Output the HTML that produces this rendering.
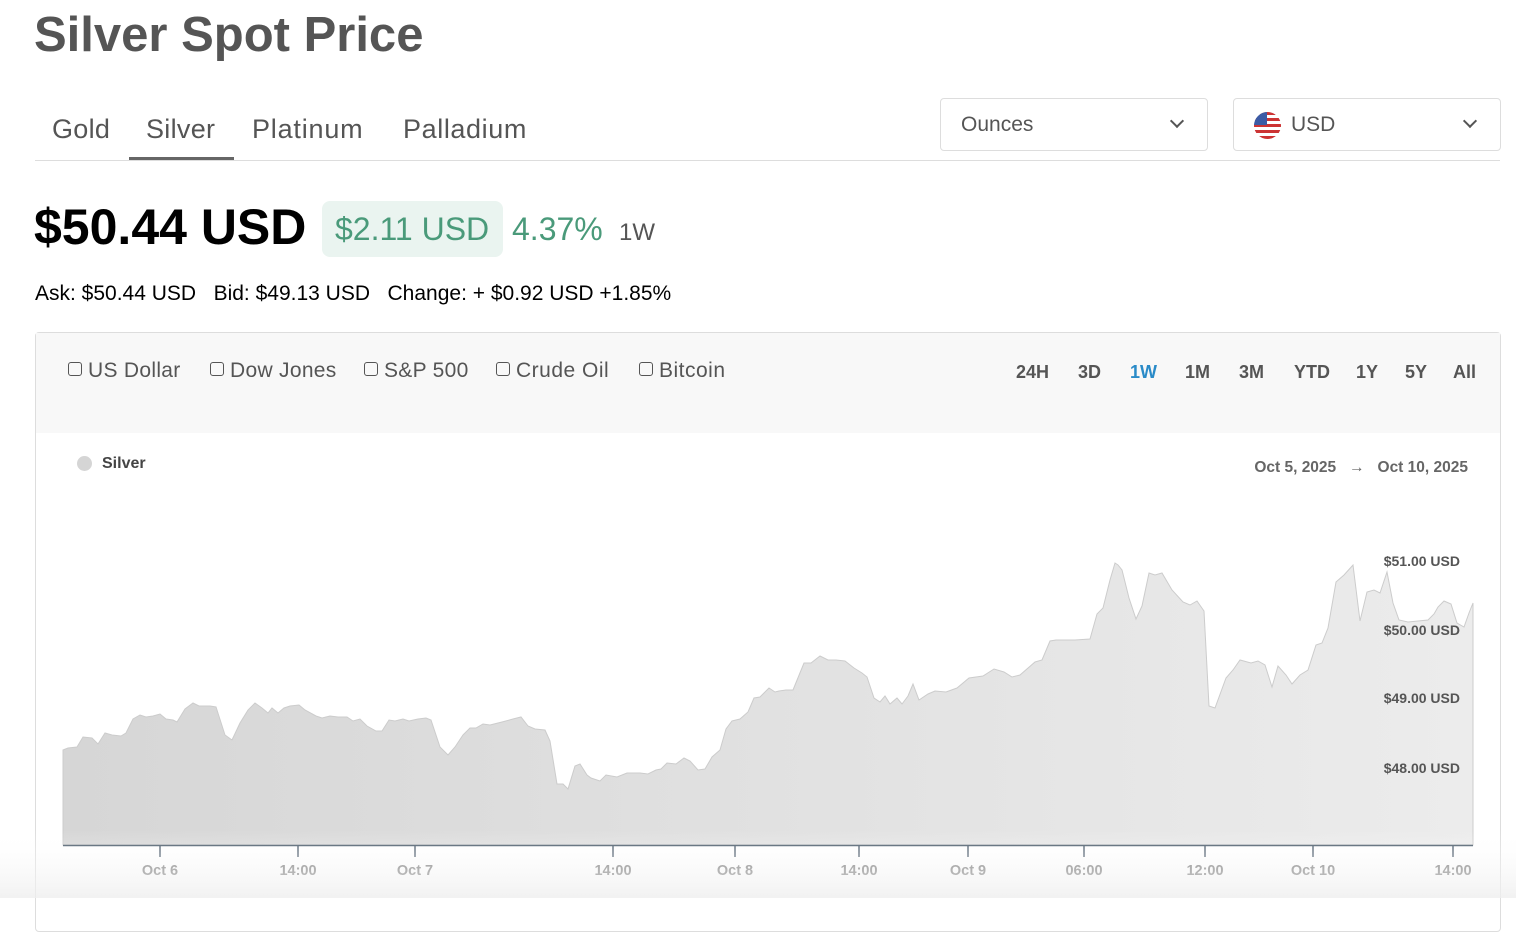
<!DOCTYPE html>
<html><head><meta charset="utf-8"><style>
*{margin:0;padding:0;box-sizing:border-box}
body{width:1516px;height:898px;overflow:hidden;background:#fff;font-family:"Liberation Sans",sans-serif;position:relative}
.a{position:absolute;white-space:nowrap}
.cb{display:inline-block;width:14px;height:14px;border:1.5px solid #555;border-radius:3px;vertical-align:1px;margin-right:6px}
</style></head><body>
<div class="a" style="left:34px;top:7px;font-size:49px;font-weight:bold;color:#555">Silver Spot Price</div>
<div class="a" style="left:52px;top:114px;font-size:27px;color:#555;letter-spacing:0.3px">Gold</div>
<div class="a" style="left:146px;top:114px;font-size:27px;color:#555;letter-spacing:0.3px">Silver</div>
<div class="a" style="left:252px;top:114px;font-size:27px;color:#555;letter-spacing:0.8px">Platinum</div>
<div class="a" style="left:403px;top:114px;font-size:27px;color:#555;letter-spacing:0.6px">Palladium</div>
<div class="a" style="left:35px;top:160px;width:1465px;height:1px;background:#ddd"></div>
<div class="a" style="left:129px;top:157px;width:105px;height:3px;background:#666"></div>
<div class="a" style="left:940px;top:98px;width:268px;height:53px;border:1px solid #ddd;border-radius:4px"></div>
<div class="a" style="left:961px;top:113px;font-size:21px;color:#555">Ounces</div>
<div class="a" style="left:1172px;top:116px;width:10px;height:10px;border-right:2px solid #555;border-bottom:2px solid #555;transform:rotate(45deg)"></div>
<div class="a" style="left:1233px;top:98px;width:268px;height:53px;border:1px solid #ddd;border-radius:4px"></div>
<div class="a" style="left:1254px;top:112px;width:27px;height:27px;border-radius:50%;overflow:hidden;background:repeating-linear-gradient(#c33 0 3px,#fff 3px 6px)"><div style="width:13px;height:13px;background:#3b5ba5"></div></div>
<div class="a" style="left:1291px;top:113px;font-size:21px;color:#555">USD</div>
<div class="a" style="left:1465px;top:116px;width:10px;height:10px;border-right:2px solid #555;border-bottom:2px solid #555;transform:rotate(45deg)"></div>
<div class="a" style="left:34px;top:198px;font-size:50px;font-weight:bold;color:#000">$50.44 USD</div>
<div class="a" style="left:322px;top:201px;width:181px;height:56px;background:#eaf4f0;border-radius:8px"></div>
<div class="a" style="left:335px;top:211px;font-size:32px;color:#4a9a7a">$2.11 USD</div>
<div class="a" style="left:512px;top:211px;font-size:32px;color:#4a9a7a">4.37%</div>
<div class="a" style="left:619px;top:219px;font-size:24px;color:#555">1W</div>
<div class="a" style="left:35px;top:282px;font-size:21px;color:#000">Ask: $50.44 USD&nbsp;&nbsp;&nbsp;Bid: $49.13 USD&nbsp;&nbsp;&nbsp;Change: + $0.92 USD +1.85%</div>
<div class="a" style="left:35px;top:332px;width:1466px;height:600px;border:1px solid #ddd;border-radius:4px"></div>
<div class="a" style="left:36px;top:333px;width:1464px;height:100px;background:#f8f8f8"></div>
<div class="a" style="left:68px;top:359px;font-size:21px;color:#555;letter-spacing:0.3px"><span class="cb"></span>US Dollar</div>
<div class="a" style="left:210px;top:359px;font-size:21px;color:#555;letter-spacing:0.3px"><span class="cb"></span>Dow Jones</div>
<div class="a" style="left:364px;top:359px;font-size:21px;color:#555;letter-spacing:0.3px"><span class="cb"></span>S&amp;P 500</div>
<div class="a" style="left:496px;top:359px;font-size:21px;color:#555;letter-spacing:0.5px"><span class="cb"></span>Crude Oil</div>
<div class="a" style="left:639px;top:359px;font-size:21px;color:#555;letter-spacing:0.5px"><span class="cb"></span>Bitcoin</div>
<div class="a" style="left:1016px;top:362px;font-size:18px;font-weight:bold;color:#555">
<span style="position:absolute;left:0">24H</span><span style="position:absolute;left:62px">3D</span><span style="position:absolute;left:114px;color:#2a8bc8">1W</span><span style="position:absolute;left:169px">1M</span><span style="position:absolute;left:223px">3M</span><span style="position:absolute;left:278px">YTD</span><span style="position:absolute;left:340px">1Y</span><span style="position:absolute;left:389px">5Y</span><span style="position:absolute;left:437px">All</span></div>
<div class="a" style="left:77px;top:456px;width:15px;height:15px;border-radius:50%;background:#d5d5d5"></div>
<div class="a" style="left:102px;top:455px;font-size:16px;font-weight:bold;color:#444">Silver</div>
<div class="a" style="right:48px;top:459px;font-size:15.5px;font-weight:bold;color:#666">Oct 5, 2025 &nbsp;&nbsp;→&nbsp;&nbsp; Oct 10, 2025</div>
<svg class="a" style="left:0;top:0" width="1516" height="898">
<defs><linearGradient id="g" x1="0" y1="0" x2="1" y2="0"><stop offset="0" stop-color="#d6d6d6"/><stop offset="1" stop-color="#ececec"/></linearGradient>
<linearGradient id="f" x1="0" y1="0" x2="0" y2="1"><stop offset="0" stop-color="#fff" stop-opacity="0"/><stop offset="1" stop-color="#eee" stop-opacity="0.8"/></linearGradient></defs>
<polygon fill="url(#g)" stroke="#ccc" stroke-width="1" points="63,845 63,750 68,748 77,747 83,737 92,738 98,744 105,733 112,735 121,736 126,733 133,719 140,715 146,717 153,716 160,714 166,719 173,720 177,722 185,709 193,703 199,706 210,706 216,707 225,735 232,740 240,723 248,710 255,703 262,708 268,713 272,708 278,713 284,708 290,706 299,705 305,710 316,716 322,718 330,716 338,717 347,717 353,721 360,719 367,726 376,731 382,731 389,720 395,721 403,719 409,721 418,719 426,718 431,720 440,747 448,755 455,747 463,735 470,728 476,728 483,724 490,725 502,722 513,719 521,717 528,726 535,729 545,730 550,741 557,784 563,784 568,789 575,766 580,764 587,775 591,778 600,781 606,775 617,777 627,773 640,773 648,774 656,770 661,769 667,763 676,764 684,758 690,761 698,770 705,769 712,757 720,750 726,729 732,721 740,719 748,712 754,698 760,697 769,688 775,692 779,691 786,690 793,690 804,663 811,663 820,656 828,660 836,660 845,661 854,668 862,673 867,677 874,698 880,702 885,696 890,704 897,698 902,704 908,696 913,684 919,700 928,694 935,691 946,692 957,688 969,678 983,676 994,669 1004,672 1012,677 1020,675 1035,662 1042,660 1050,641 1056,640 1075,640 1090,639 1097,614 1103,608 1110,580 1115,563 1118,565 1122,570 1129,598 1136,619 1142,606 1149,573 1155,575 1162,573 1172,590 1183,602 1190,605 1197,601 1204,611 1209,706 1215,708 1226,678 1233,670 1240,660 1251,663 1258,661 1265,665 1272,687 1278,666 1286,675 1292,684 1300,675 1308,670 1316,645 1322,643 1328,628 1336,582 1344,575 1353,565 1360,621 1367,592 1374,590 1380,593 1387,572 1393,603 1399,620 1408,622 1418,621 1428,620 1434,614 1438,607 1444,601 1451,604 1457,623 1464,627 1469,613 1473,603 1473,845"/>
<line x1="63" y1="845.5" x2="1473" y2="845.5" stroke="#4a5a6a" stroke-width="1.5"/>
<g stroke="#4a5a6a" stroke-width="1.5">
<line x1="160" y1="845" x2="160" y2="857"/><line x1="298" y1="845" x2="298" y2="857"/><line x1="415" y1="845" x2="415" y2="857"/><line x1="613" y1="845" x2="613" y2="857"/><line x1="735" y1="845" x2="735" y2="857"/><line x1="859" y1="845" x2="859" y2="857"/><line x1="968" y1="845" x2="968" y2="857"/><line x1="1084" y1="845" x2="1084" y2="857"/><line x1="1205" y1="845" x2="1205" y2="857"/><line x1="1313" y1="845" x2="1313" y2="857"/><line x1="1453" y1="845" x2="1453" y2="857"/>
</g>
<g font-family="Liberation Sans" font-size="14.5" font-weight="bold" fill="#777" text-anchor="middle">
<text x="160" y="875">Oct 6</text><text x="298" y="875">14:00</text><text x="415" y="875">Oct 7</text><text x="613" y="875">14:00</text><text x="735" y="875">Oct 8</text><text x="859" y="875">14:00</text><text x="968" y="875">Oct 9</text><text x="1084" y="875">06:00</text><text x="1205" y="875">12:00</text><text x="1313" y="875">Oct 10</text><text x="1453" y="875">14:00</text>
</g>
<g font-family="Liberation Sans" font-size="14" font-weight="bold" fill="#555" text-anchor="end">
<text x="1460" y="566">$51.00 USD</text><text x="1460" y="635">$50.00 USD</text><text x="1460" y="703">$49.00 USD</text><text x="1460" y="773">$48.00 USD</text>
</g>
<rect x="0" y="830" width="1516" height="68" fill="url(#f)"/>
</svg>
</body></html>
